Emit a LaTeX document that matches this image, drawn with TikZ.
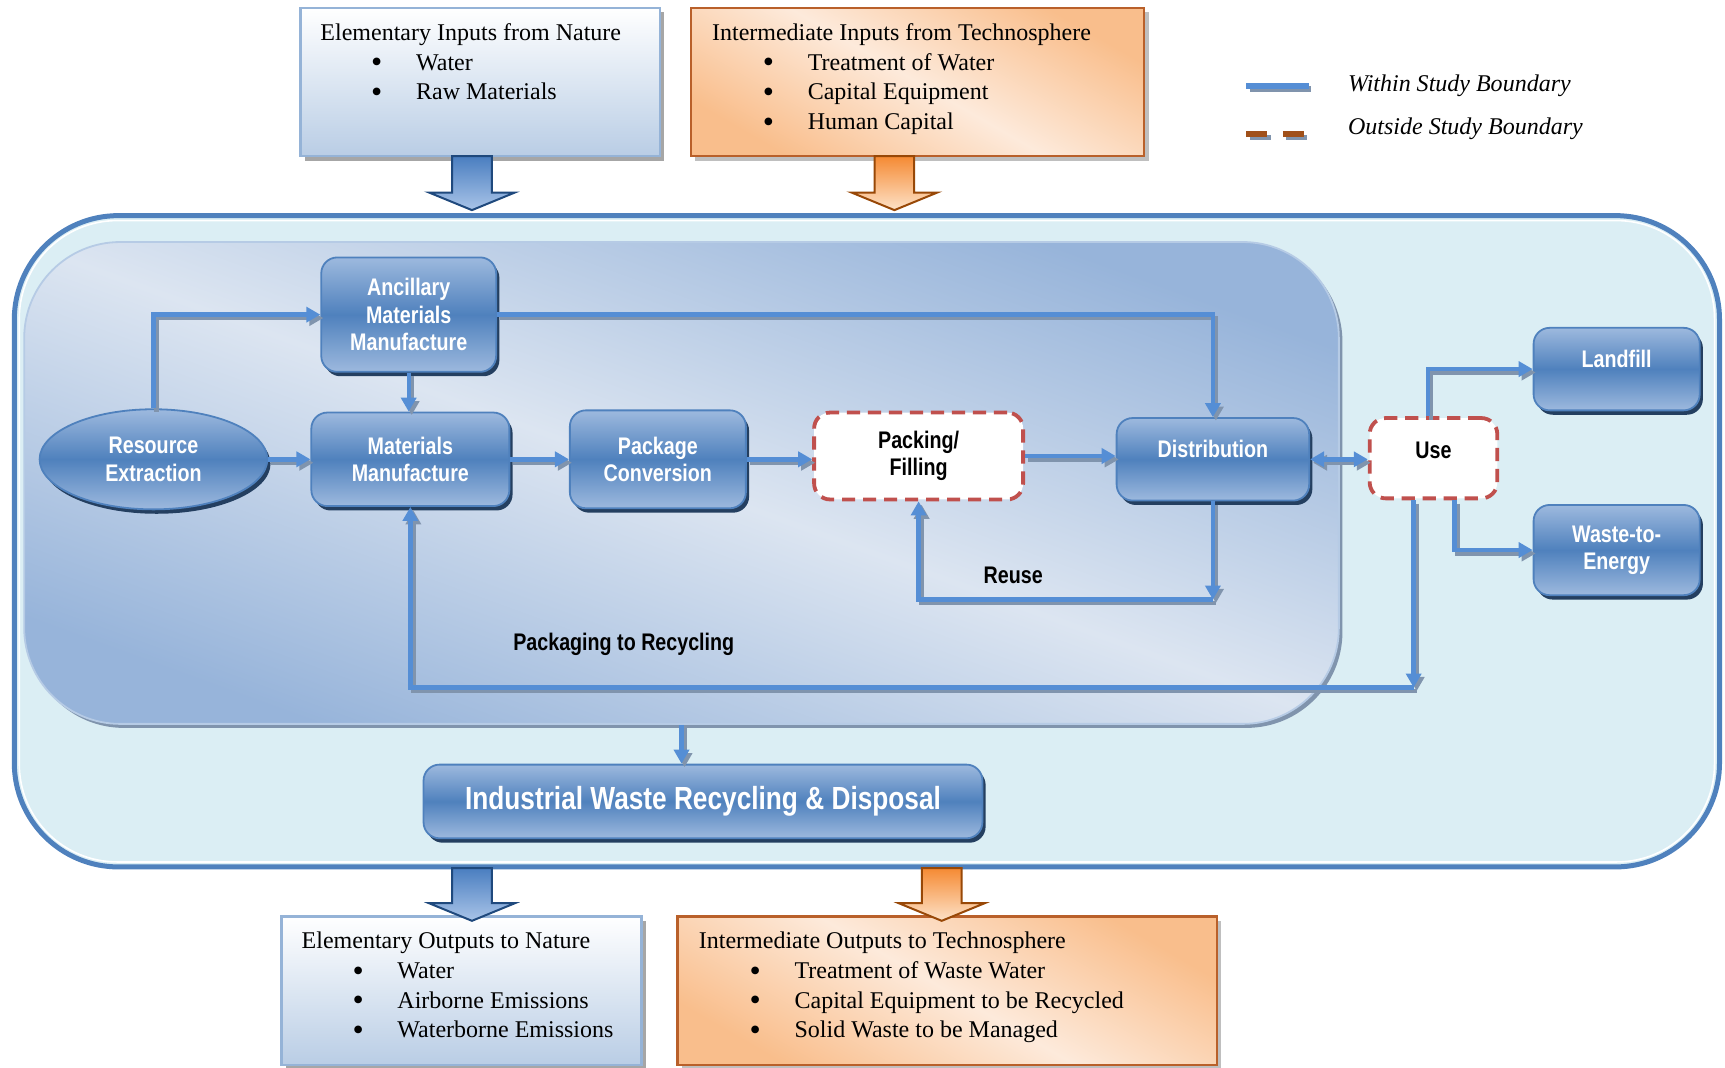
\documentclass[tikz,border=0pt]{standalone}
\usepackage{fontspec}
\setmainfont{Liberation Serif}
\newfontfamily\nodefam[FakeStretch=0.82]{Liberation Sans}
\usetikzlibrary{shapes.geometric,arrows.meta,shadows}
\definecolor{bline}{HTML}{4F81BD}
\definecolor{outerfill}{HTML}{DBEEF4}
\definecolor{arrblue}{HTML}{558ED5}
\definecolor{shgray}{HTML}{8094AD}
\definecolor{nodelight}{HTML}{9DB9DE}
\definecolor{nodemid}{HTML}{4F81BD}
\definecolor{nodeshadow}{HTML}{243F60}
\definecolor{dashred}{HTML}{C0504D}
\definecolor{innerdark}{HTML}{97B4DA}
\definecolor{innerlight}{HTML}{DCE5F1}
\definecolor{orangedark}{HTML}{F9BE8C}
\definecolor{orangelight}{HTML}{FDEADB}
\definecolor{orangeborder}{HTML}{B9602A}
\definecolor{boxblue}{HTML}{B9CDE5}
\definecolor{boxborder}{HTML}{95B3D7}
\definecolor{legbrown}{HTML}{A0501A}
\definecolor{blkborder}{HTML}{1F497D}
\definecolor{blktop}{HTML}{4A7EC0}
\definecolor{blkbot}{HTML}{A9C4E8}
\definecolor{orgtop}{HTML}{F58A33}
\definecolor{orgbot}{HTML}{FDE2C8}
\definecolor{orgborder}{HTML}{984807}
\newcommand\listbul{\makebox[47.85pt][l]{\hspace{25.4pt}\raisebox{-1.3pt}{\fontsize{16}{14}\selectfont\textbullet}}}
\newcommand\conn[2][]{\draw[connsh,#1] #2; \draw[conn,#1] #2;}
\newcommand\blkarrow[5]{\draw[#5] (#1-18,#2) -- (#1-18,#3) -- (#1-39,#3) -- (#1,#4) -- (#1+39,#3) -- (#1+18,#3) -- (#1+18,#2) -- cycle;}
\begin{document}
\begin{tikzpicture}[x=0.55pt,y=-0.55pt,
  >={Triangle[length=7pt,width=7.5pt]},
  nodefont/.style={font=\nodefam\bfseries\fontsize{12}{13.75}\selectfont},
  procbox/.style={rectangle, rounded corners=8pt, draw=nodemid, line width=0.9pt,
    top color=nodelight, bottom color=nodelight, middle color=nodemid,
    text=white, nodefont, align=center, inner sep=2pt,
    general shadow={fill=nodeshadow, shadow xshift=1.6pt, shadow yshift=-2.2pt}},
  procell/.style={procbox, ellipse},
  dashbox/.style={rectangle, rounded corners=8pt, draw=dashred, line width=1.9pt,
    dash pattern=on 6.6pt off 3.9pt, fill=white, text=black, nodefont, align=center, inner sep=2pt},
  innerreg/.style={rectangle, rounded corners=48pt, draw=innerdark!70!white, line width=0.9pt,
    left color=innerdark, right color=innerdark, middle color=innerlight, shading angle=160,
    general shadow={fill=shgray, shadow xshift=1.8pt, shadow yshift=-2pt}},
  natbox/.style={rectangle, draw=boxborder, line width=1.2pt, top color=white, bottom color=boxblue,
    general shadow={fill=black!35, shadow xshift=2.2pt, shadow yshift=-2.2pt}},
  techbox/.style={rectangle, draw=orangeborder, line width=1.2pt,
    left color=orangedark, right color=orangedark, middle color=orangelight, shading angle=150,
    general shadow={fill=black!25, shadow xshift=2.2pt, shadow yshift=-2.2pt}},
  listtext/.style={anchor=north west, inner sep=0pt, align=left, font=\fontsize{12}{14.85}\selectfont},
  labeltext/.style={nodefont, text=black, inner sep=0pt},
  legtext/.style={anchor=west, inner sep=0pt, font=\itshape\fontsize{12}{14}\selectfont},
  connsh/.style={draw=shgray, line width=2.2pt, fill=none, transform canvas={shift={(1.5pt,-1.7pt)}}},
  conn/.style={draw=arrblue, line width=2.2pt, fill=none},
  blkblue/.style={draw=blkborder, line width=1pt, top color=blktop, bottom color=blkbot},
  blkorange/.style={draw=orgborder, line width=1pt, top color=orgtop, bottom color=orgbot}
]
\fill[white] (0,0) rectangle (1568,970);
\useasboundingbox (0,0) rectangle (1568,970);

% outer study boundary
\draw[draw=bline, line width=2.5pt, fill=outerfill, rounded corners=52pt] (13,196) rectangle (1563,788);
\draw[white, line width=0.8pt, rounded corners=49pt] (17.5,200.5) rectangle (1558.5,783.5);

% inner region
\node[innerreg, minimum width=657.25pt, minimum height=240.9pt] (inner) at (619.5,439) {};

% process nodes
\node[procbox, minimum width=87.45pt, minimum height=57.2pt] (anc) at (371.5,286) {Ancillary\\Materials\\Manufacture};
\node[procell, minimum width=113.85pt, minimum height=50.05pt, inner sep=0pt] (res) at (139.5,417.5) {Resource\\Extraction};
\node[procbox, minimum width=99pt, minimum height=46.75pt] (mm) at (373,417.5) {Materials\\Manufacture};
\node[procbox, minimum width=88pt, minimum height=48.95pt] (pc) at (598,417.5) {Package\\Conversion};
\node[dashbox, minimum width=104.5pt, minimum height=43.45pt] (pf) at (835,414.5) {Packing/\\Filling};
\node[procbox, minimum width=96.25pt, minimum height=41.25pt] (dist) at (1102.5,417.5) {\raisebox{11pt}{Distribution}};
\node[dashbox, minimum width=63.8pt, minimum height=40.15pt] (use) at (1303,416.5) {\raisebox{8pt}{Use}};
\node[procbox, minimum width=83.05pt, minimum height=41.25pt] (land) at (1469.5,335.5) {\raisebox{10.5pt}{Landfill}};
\node[procbox, minimum width=83.05pt, minimum height=45.1pt] (wte) at (1469.5,500) {Waste-to-\\Energy};
\node[procbox, minimum width=279.4pt, minimum height=36.85pt, font=\nodefam\bfseries\fontsize{16}{19}\selectfont] (iw) at (639,728.5) {Industrial Waste Recycling \& Disposal};

% labels
\node[labeltext] (reuselbl) at (921,523) {Reuse};
\node[labeltext] (recylbl) at (567,586) {Packaging to Recycling};

% helper coordinates
\coordinate (reusec) at (1106,545);
\coordinate (recc) at (1288,625);
\coordinate (usedn) at ([xshift=-9.9pt]use.south);
\coordinate (useup) at ([xshift=-2.75pt]use.north);
\coordinate (usedn2) at ([xshift=10.45pt]use.south);

% connectors
\conn[->]{(res.north) |- (anc.west)}
\conn[->]{(res.east) -- (mm.west)}
\conn[->]{(anc.south) -- (anc.south |- mm.north)}
\conn[->]{(anc.east) -| (dist.north)}
\conn[->]{(mm.east) -- (pc.west)}
\conn[->]{(pc.east) -- (pc.east -| pf.west)}
\conn[->]{(pf.east) -- (pf.east -| dist.west)}
\conn[<->]{(dist.east) -- (dist.east -| use.west)}
\conn[->]{(dist.south) -- (dist.south |- reusec)}
\conn[->]{(dist.south |- reusec) -| (pf.south)}
\conn[->]{(usedn) -- (usedn |- recc)}
\conn[->]{(usedn |- recc) -| (mm.south)}
\conn[->]{(useup) |- (land.west)}
\conn[->]{(usedn2) |- (wte.west)}
\conn[->]{(inner.south) -- (inner.south |- iw.north)}

% top boxes
\node[natbox, minimum width=179.85pt, minimum height=74.25pt] (ein) at (436.5,74.5) {};
\node[listtext] (eintext) at ([shift={(19,15)}]ein.north west) {Elementary Inputs from Nature\\\listbul Water\\\listbul Raw Materials};
\node[techbox, minimum width=226.6pt, minimum height=74.25pt] (iit) at (834,74.5) {};
\node[listtext] (iittext) at ([shift={(20,15)}]iit.north west) {Intermediate Inputs from Technosphere\\\listbul Treatment of Water\\\listbul Capital Equipment\\\listbul Human Capital};

% top block arrows
\blkarrow{429}{142}{175}{191}{blkblue}
\blkarrow{813}{142}{175}{191}{blkorange}

% bottom boxes
\node[natbox, minimum width=179.85pt, minimum height=74.25pt] (eon) at (419.5,900.5) {};
\node[listtext] (eontext) at ([shift={(19,15)}]eon.north west) {Elementary Outputs to Nature\\\listbul Water\\\listbul Airborne Emissions\\\listbul Waterborne Emissions};
\node[techbox, minimum width=269.5pt, minimum height=74.25pt] (iot) at (861,900.5) {};
\node[listtext] (iottext) at ([shift={(20,15)}]iot.north west) {Intermediate Outputs to Technosphere\\\listbul Treatment of Waste Water\\\listbul Capital Equipment to be Recycled\\\listbul Solid Waste to be Managed};

% bottom block arrows
\blkarrow{429}{789}{821}{837}{blkblue}
\blkarrow{856}{789}{821}{837}{blkorange}

% legend
\draw[shgray, line width=2.75pt] (1136,81) -- (1192,81);
\draw[arrblue, line width=2.75pt] (1133,78) -- (1190,78);
\draw[shgray, line width=2.75pt, dash pattern=on 10.45pt off 7.7pt] (1136,125) -- (1190,125);
\draw[legbrown, line width=2.75pt, dash pattern=on 10.45pt off 7.7pt] (1133,122) -- (1187,122);
\node[legtext] (leg1) at (1225,78) {Within Study Boundary};
\node[legtext] (leg2) at (1225,117) {Outside Study Boundary};
\end{tikzpicture}
\end{document}
